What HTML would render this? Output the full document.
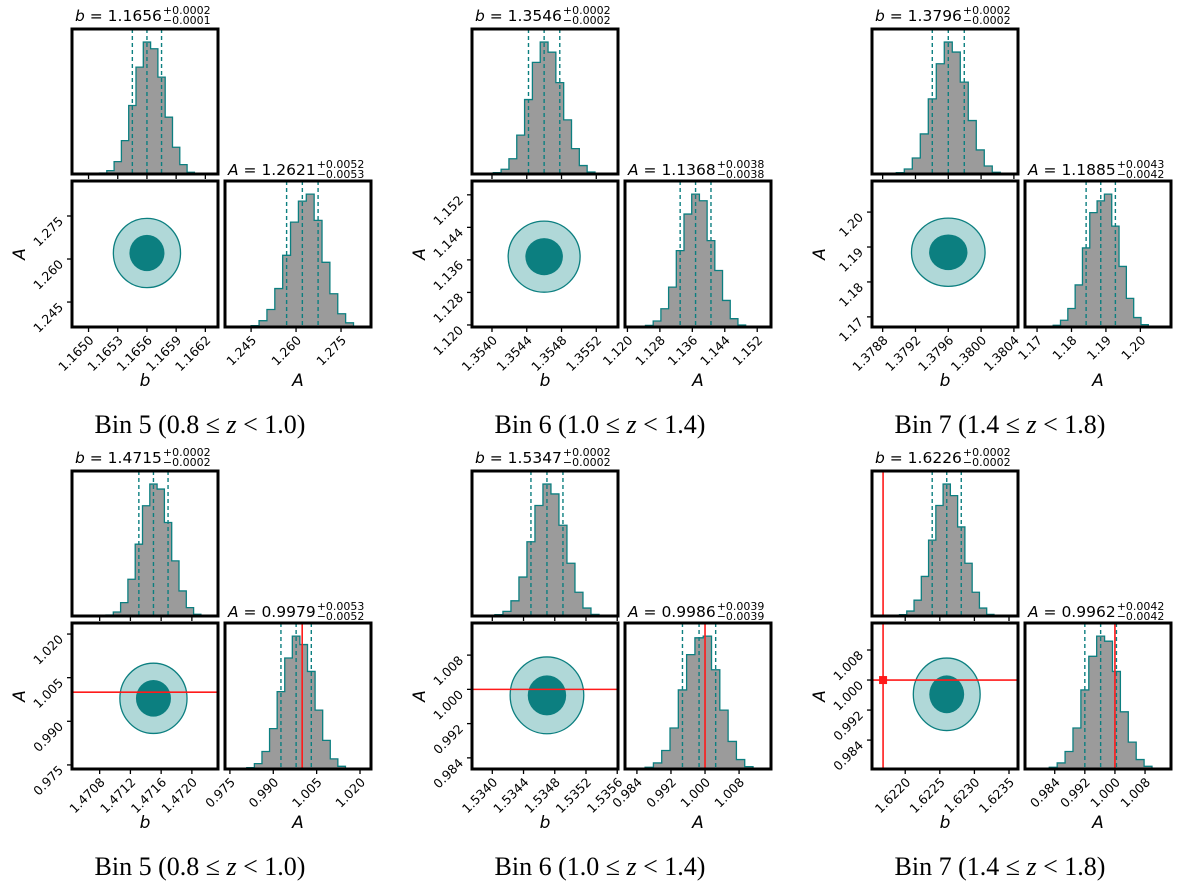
<!DOCTYPE html>
<html><head><meta charset="utf-8">
<style>
html,body{margin:0;padding:0;background:#fff;}
svg{display:block;}
text{font-family:"DejaVu Sans","Liberation Sans",sans-serif;fill:#000;}
.cap{font-family:"Liberation Serif",serif;font-size:26px;}
</style></head>
<body>
<svg id="fig" width="1200" height="888" viewBox="0 0 1200 888" xmlns="http://www.w3.org/2000/svg"></svg>
<script>
// ---- data ----
const binNames = ["Bin 5","Bin 6","Bin 7","Bin 5","Bin 6","Bin 7"];
const zRanges = [["0.8","1.0"],["1.0","1.4"],["1.4","1.8"],["0.8","1.0"],["1.0","1.4"],["1.4","1.8"]];
const bValues = [1.1656,1.3546,1.3796,1.4715,1.5347,1.6226];
const bErrPlus = ["0.0002","0.0002","0.0002","0.0002","0.0002","0.0002"];
const bErrMinus = ["0.0001","0.0002","0.0002","0.0002","0.0002","0.0002"];
const bSigma = [0.00015,0.00018,0.000195,0.00019,0.000205,0.00021];
const aValues = [1.2621,1.1368,1.1885,0.9979,0.9986,0.9962];
const aErrPlus = ["0.0052","0.0038","0.0043","0.0053","0.0039","0.0042"];
const aErrMinus = ["0.0053","0.0038","0.0042","0.0052","0.0039","0.0042"];
const aSigma = [0.00525,0.0038,0.00425,0.00525,0.0039,0.0042];
const bRange = [[1.16483,1.16633],[1.35377,1.35545],[1.37867,1.38045],[1.47044,1.47234],[1.53374,1.53561],[1.62152,1.62363]];
const aRange = [[1.2363,1.2872],[1.1195,1.1554],[1.1671,1.2089],[0.9736,1.0238],[0.9814,1.0155],[0.9763,1.0152]];
const aHistRange = [[1.2363,1.2850],[1.1194,1.1554],[1.1665,1.2089],[0.9733,1.0238],[0.9812,1.0155],[0.9761,1.0149]];
const bTicks = [["1.1650","1.1653","1.1656","1.1659","1.1662"],["1.3540","1.3544","1.3548","1.3552"],["1.3788","1.3792","1.3796","1.3800","1.3804"],["1.4708","1.4712","1.4716","1.4720"],["1.5340","1.5344","1.5348","1.5352","1.5356"],["1.6220","1.6225","1.6230","1.6235"]];
const aTicks = [["1.245","1.260","1.275"],["1.120","1.128","1.136","1.144","1.152"],["1.17","1.18","1.19","1.20"],["0.975","0.990","1.005","1.020"],["0.984","0.992","1.000","1.008"],["0.984","0.992","1.000","1.008"]];
const bTruth = [null,null,null,null,null,1.62168];
const aTruth = [null,null,null,1.000,1.000,1.000];
const bCounts = [
 [3,10,37,100,205,320,395,375,290,170,80,28,5],
 [4,14,45,115,220,330,390,360,270,160,75,25,6],
 [4,15,48,120,225,330,395,365,275,160,72,24,5],
 [3,12,40,110,215,330,395,380,280,165,75,25,5],
 [4,14,46,118,225,335,400,370,275,160,72,24,5],
 [4,15,48,120,230,335,400,365,270,160,72,24,5]];
const aCounts = [
 [4,18,50,110,205,300,360,380,305,185,95,38,12],
 [5,18,55,120,230,340,400,380,260,170,80,25,6],
 [5,20,55,125,235,340,375,395,300,180,85,28,7],
 [4,16,52,120,230,330,395,370,290,175,85,30,8],
 [5,18,55,122,235,340,390,395,295,175,82,28,7],
 [5,18,52,122,235,335,395,380,290,170,80,28,8]];

// ---- layout ----
const colX=[0,400,800], rowY=[0,442];
const TEAL="#0c7f80", LIGHT="#b0d8d8", RED="#ff1a1a";
const NS="http://www.w3.org/2000/svg";
const svg=document.getElementById('fig');
function mk(tag,attrs,parent,txt){const e=document.createElementNS(NS,tag);for(const k in attrs)e.setAttribute(k,attrs[k]);if(txt!==undefined)e.textContent=txt;(parent||svg).appendChild(e);return e;}
function lin(d0,d1,p0,p1){return v=>p0+(v-d0)/(d1-d0)*(p1-p0);}

for(let i=0;i<6;i++){
  const ox=colX[i%3], oy=rowY[Math.floor(i/3)];
  const g=mk('g',{});
  
  
  const TH={x0:ox+72,x1:ox+218,y0:oy+29,y1:oy+174};
  const BL={x0:ox+72,x1:ox+218,y0:oy+181,y1:oy+327};
  const BR={x0:ox+225,x1:ox+371,y0:oy+181,y1:oy+327};
  const xb=lin(bRange[i][0],bRange[i][1],BL.x0,BL.x1);
  const ya=lin(aRange[i][0],aRange[i][1],BL.y1,BL.y0);
  const xa=lin(aHistRange[i][0],aHistRange[i][1],BR.x0,BR.x1);

  function hist(counts,val,sig,xs,box,name){
    const w=sig/2, n=counts.length, start=val-n/2*w;
    const mx=Math.max(...counts), h=(box.y1-box.y0)*0.91;
    let d='M'+xs(start)+','+box.y1;
    counts.forEach((c,k)=>{const y=box.y1-c/mx*h;d+=' L'+xs(start+k*w)+','+y+' L'+xs(start+(k+1)*w)+','+y;});
    d+=' L'+xs(start+n*w)+','+box.y1+' Z';
    const p=mk('path',{d:d,fill:'#9b9b9b',stroke:TEAL,'stroke-width':1.3},g);
    
    
    [val-sig,val,val+sig].forEach(v=>{
      const l=mk('line',{x1:xs(v),x2:xs(v),y1:box.y0,y2:box.y1,stroke:TEAL,'stroke-width':1.4,'stroke-dasharray':'4,3'},g);
      
      
    });
  }
  hist(bCounts[i],bValues[i],bSigma[i],xb,TH,'b-histogram');
  hist(aCounts[i],aValues[i],aSigma[i],xa,BR,'a-histogram');

  const cx=xb(bValues[i]), cy=ya(aValues[i]);
  const rbo=Math.abs(xb(bValues[i]+2.3*bSigma[i])-cx), rao=Math.abs(ya(aValues[i]+2.3*aSigma[i])-cy);
  const rbi=Math.abs(xb(bValues[i]+1.2*bSigma[i])-cx), rai=Math.abs(ya(aValues[i]+1.2*aSigma[i])-cy);
  const c1=mk('ellipse',{cx:cx,cy:cy,rx:rbo,ry:rao,fill:LIGHT,stroke:TEAL,'stroke-width':1.3},g);
  
  
  const c2=mk('ellipse',{cx:cx,cy:cy,rx:rbi,ry:rai,fill:TEAL},g);
  
  

  if(aTruth[i]!==null){
    const l=mk('line',{x1:BL.x0,x2:BL.x1,y1:ya(aTruth[i]),y2:ya(aTruth[i]),stroke:RED,'stroke-width':1.6},g);
    
    
    const l2=mk('line',{x1:xa(aTruth[i]),x2:xa(aTruth[i]),y1:BR.y0,y2:BR.y1,stroke:RED,'stroke-width':1.6},g);
    
    
  }
  if(bTruth[i]!==null){
    [TH,BL].forEach(bx=>{
      const l=mk('line',{x1:xb(bTruth[i]),x2:xb(bTruth[i]),y1:bx.y0,y2:bx.y1,stroke:RED,'stroke-width':1.6},g);
      
      
    });
    if(aTruth[i]!==null){
      const m=mk('rect',{x:xb(bTruth[i])-4,y:ya(aTruth[i])-4,width:8,height:8,fill:RED},g);
      
      
    }
  }

  [[TH,'b-hist-frame'],[BL,'joint-frame'],[BR,'a-hist-frame']].forEach(([b,n])=>{
    const r=mk('rect',{x:b.x0,y:b.y0,width:b.x1-b.x0,height:b.y1-b.y0,fill:'none',stroke:'#000','stroke-width':3},g);
    
    
  });

  bTicks[i].forEach(t=>{
    const x=xb(parseFloat(t));
    mk('line',{x1:x,x2:x,y1:TH.y1,y2:TH.y1+5,stroke:'#000','stroke-width':1.3},g);
    mk('line',{x1:x,x2:x,y1:BL.y1,y2:BL.y1+5,stroke:'#000','stroke-width':1.3},g);
    const tx=mk('text',{x:x+6,y:BL.y1+14,'font-size':12.5,'text-anchor':'end',transform:'rotate(-45 '+(x+6)+' '+(BL.y1+14)+')'},g,t);
    
    
  });
  aTicks[i].forEach(t=>{
    const y=ya(parseFloat(t));
    mk('line',{x1:BL.x0-5,x2:BL.x0,y1:y,y2:y,stroke:'#000','stroke-width':1.3},g);
    const ty=mk('text',{x:BL.x0-8,y:y+6,'font-size':12.5,'text-anchor':'end',transform:'rotate(-45 '+(BL.x0-8)+' '+(y+6)+')'},g,t);
    
    
    const x=xa(parseFloat(t));
    mk('line',{x1:x,x2:x,y1:BR.y1,y2:BR.y1+5,stroke:'#000','stroke-width':1.3},g);
    const tx=mk('text',{x:x+6,y:BR.y1+14,'font-size':12.5,'text-anchor':'end',transform:'rotate(-45 '+(x+6)+' '+(BR.y1+14)+')'},g,t);
    
    
  });

  const lb=mk('text',{x:ox+145,y:oy+386,'font-size':17,'font-style':'italic','text-anchor':'middle'},g,'b');
  
  
  const la=mk('text',{x:ox+298,y:oy+386,'font-size':17,'font-style':'italic','text-anchor':'middle'},g,'A');
  
  
  const lya=mk('text',{x:ox+25,y:oy+254,'font-size':17,'font-style':'italic','text-anchor':'middle',transform:'rotate(-90 '+(ox+25)+' '+(oy+254)+')'},g,'A');
  
  

  function title(x,y,sym,val,p,m,name){
    const t=mk('text',{x:x,y:y,'font-size':15.5},g);
    
    
    mk('tspan',{'font-style':'italic'},t,sym);
    mk('tspan',{},t,' = '+val);
    let px;
    try{px=x+t.getComputedTextLength()+1;}catch(e){px=x+95;}
    mk('text',{x:px,y:y-7,'font-size':11},g,'+'+p);
    mk('text',{x:px,y:y+3,'font-size':11},g,'\u2212'+m);
  }
  title(ox+75,oy+21,'b',bValues[i].toFixed(4),bErrPlus[i],bErrMinus[i],'b-title');
  title(ox+228,oy+175,'A',aValues[i].toFixed(4),aErrPlus[i],aErrMinus[i],'a-title');

  const cap=mk('text',{x:ox+200,y:oy+433,'text-anchor':'middle',class:'cap'},g);
  
  
  mk('tspan',{},cap,binNames[i]+' ('+zRanges[i][0]+' \u2264 ');
  mk('tspan',{'font-style':'italic'},cap,'z');
  mk('tspan',{},cap,' < '+zRanges[i][1]+')');
}
</script>
</body></html>
